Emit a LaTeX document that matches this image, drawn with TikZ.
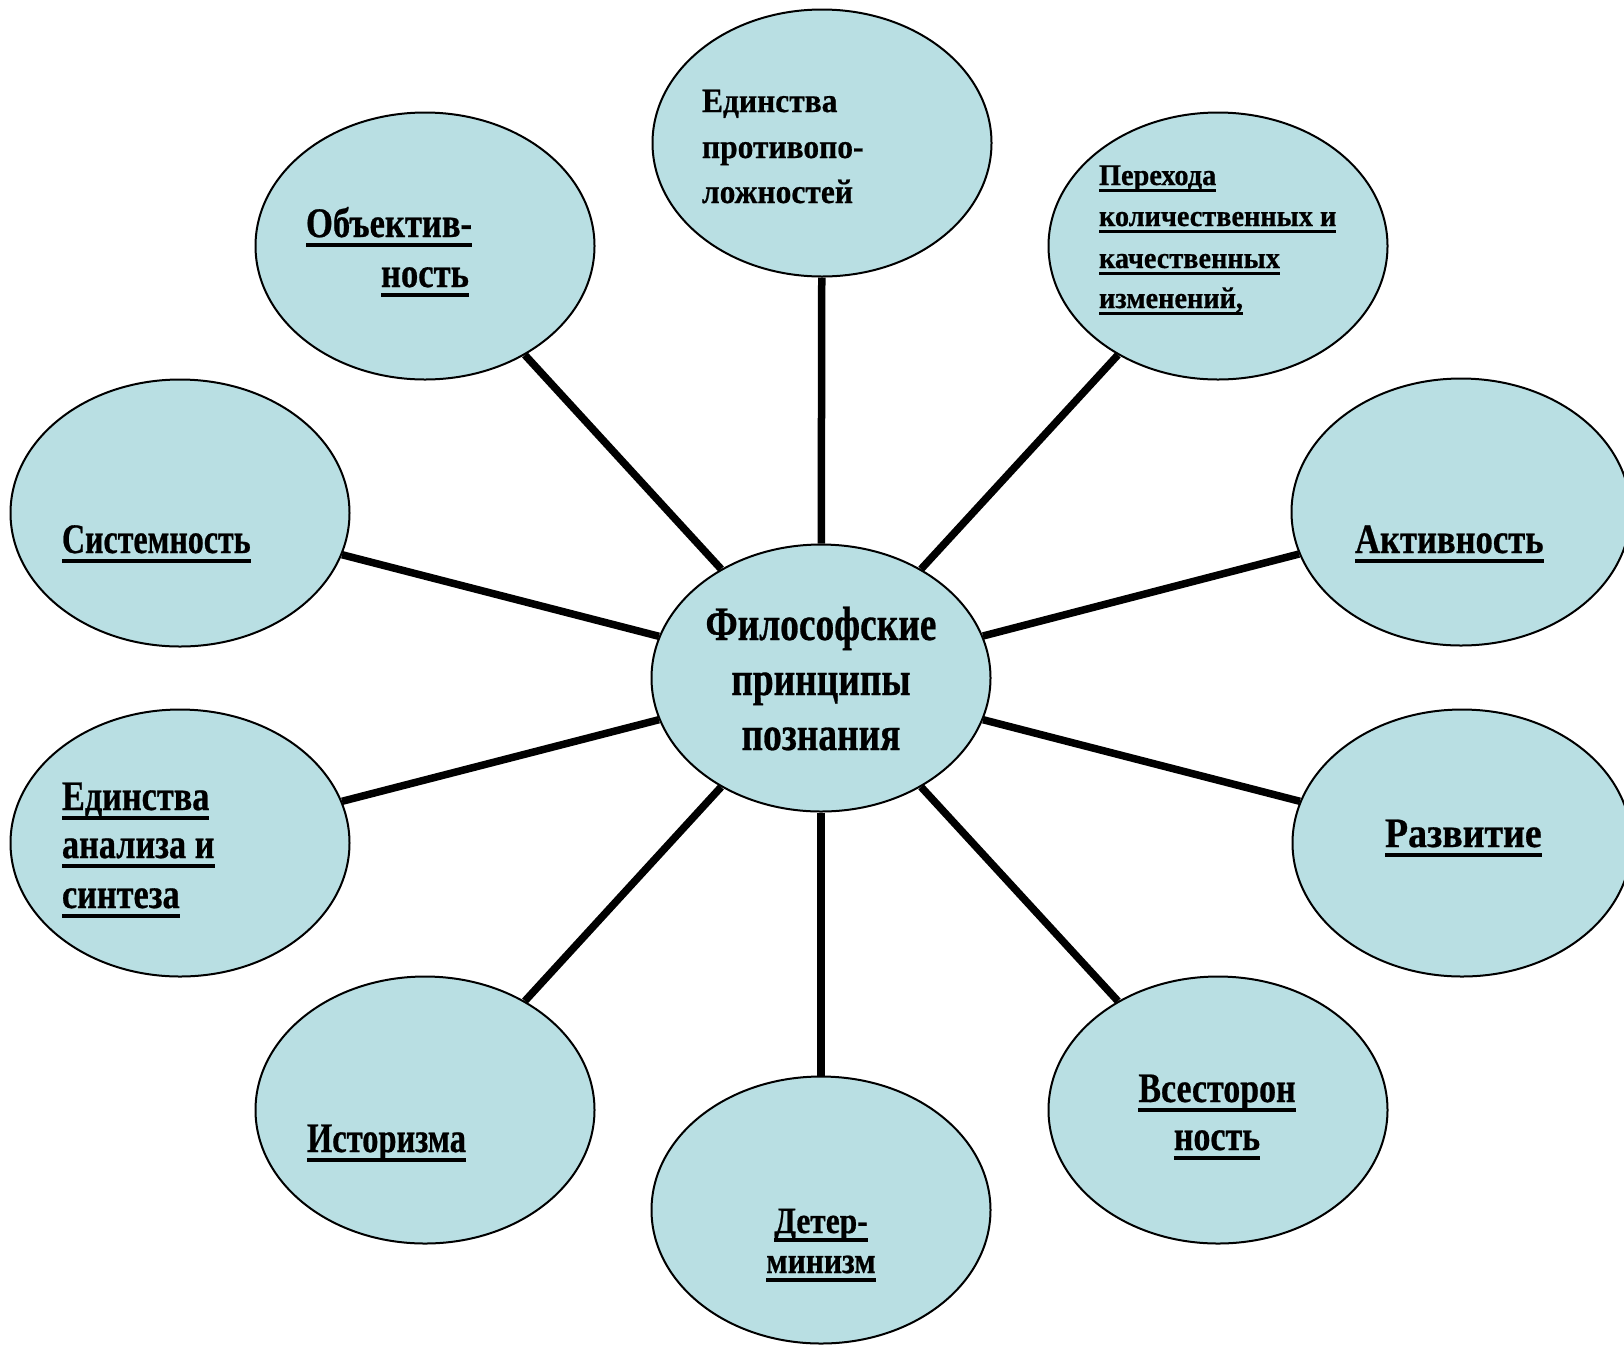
\documentclass[tikz,border=0pt]{standalone}
\usepackage{graphicx}
\usepackage{fontspec}
\setmainfont{Liberation Serif}[FakeStretch=0.85,FakeBold=0.6]
\definecolor{ellfill}{RGB}{185,223,227}
\newsavebox\myulbox
\newcommand\ulx[1]{\sbox\myulbox{#1}\rlap{\rule[-0.235em]{\wd\myulbox}{0.1em}}\usebox\myulbox}
\newcommand\hs[2]{\scalebox{#1}[1]{#2}}
\tikzset{
  ell/.style={ellipse, draw=black, line width=2pt, fill=ellfill, minimum width=339pt, minimum height=267pt, inner sep=0pt},
  conn/.style={line width=7.5pt, black},
  tx/.style={inner sep=0pt, outer sep=0pt, anchor=base west},
  txc/.style={inner sep=0pt, outer sep=0pt, anchor=base},
  fbig/.style={font=\fontsize{48}{55}\selectfont\bfseries},
  fmid/.style={font=\fontsize{42}{50}\selectfont\bfseries},
  fsm/.style={font=\fontsize{34}{40}\selectfont\bfseries},
  fxs/.style={font=\fontsize{30}{36}\selectfont\bfseries},
  fdet/.style={font=\fontsize{37}{42}\selectfont\bfseries},
}
\usetikzlibrary{shapes.geometric}
\begin{document}
\begin{tikzpicture}[x=1pt,y=-1pt]
\useasboundingbox (0,0) rectangle (1624,1345);
\fill[white] (0,0) rectangle (1624,1345);
% ellipses
\node[ell] (c) at (821,678) {};
\node[ell] (top) at (822,143) {};
\node[ell] (bot) at (821,1210) {};
\node[ell] (obj) at (425,246) {};
\node[ell] (per) at (1218,246) {};
\node[ell] (sys) at (180,513) {};
\node[ell] (akt) at (1461,512) {};
\node[ell] (ean) at (180,843) {};
\node[ell] (raz) at (1462,843) {};
\node[ell] (ist) at (425,1110) {};
\node[ell] (vse) at (1218,1110) {};
% connectors
\foreach \n in {top,bot,obj,per,sys,akt,ean,raz,ist,vse}{
  \draw[conn] (c) -- (\n);
}
% center text
\node[txc,fbig] (c1) at (821,640) {\hs{0.917}{Философские}};
\node[txc,fbig] (c2) at (821,695) {\hs{0.917}{принципы}};
\node[txc,fbig] (c3) at (821,750) {\hs{0.917}{познания}};
% top
\node[tx,fsm] (t1) at (702,112) {\hs{1.09}{Единства}};
\node[tx,fsm] (t2) at (702,158) {\hs{1.09}{противопо-}};
\node[tx,fsm] (t3) at (702,203) {\hs{1.09}{ложностей}};
% objectivity
\node[tx,fmid] (o1) at (306,237) {\hs{0.97}{\ulx{Объектив-}}};
\node[tx,fmid] (o2) at (381,287) {\hs{0.97}{\ulx{ность}}};
% transition
\node[tx,fxs] (p1) at (1099,185) {\hs{1.11}{\ulx{Перехода}}};
\node[tx,fxs] (p2) at (1099,226) {\hs{1.11}{\ulx{количественных и}}};
\node[tx,fxs] (p3) at (1099,268) {\hs{1.11}{\ulx{качественных}}};
\node[tx,fxs] (p4) at (1099,308) {\hs{1.11}{\ulx{изменений,}}};
% system
\node[tx,fmid] (s1) at (62,553) {\hs{0.896}{\ulx{Системность}}};
% activity
\node[tx,fmid] (a1) at (1355,553) {\hs{0.97}{\ulx{Активность}}};
% unity analysis
\node[tx,fmid] (e1) at (62,810) {\hs{0.96}{\ulx{Единства}}};
\node[tx,fmid] (e2) at (62,858) {\hs{0.96}{\ulx{анализа и}}};
\node[tx,fmid] (e3) at (62,908) {\hs{0.96}{\ulx{синтеза}}};
% development
\node[tx,fmid] (r1) at (1385,847) {\hs{1.06}{\ulx{Развитие}}};
% historism
\node[tx,fmid] (h1) at (307,1152) {\hs{0.91}{\ulx{Историзма}}};
% all-sidedness
\node[txc,fmid] (v1) at (1217,1102) {\hs{0.95}{\ulx{Всесторон}}};
\node[txc,fmid] (v2) at (1217,1150) {\hs{0.95}{\ulx{ность}}};
% determinism
\node[txc,fdet] (d1) at (821,1233) {\ulx{Детер-}};
\node[txc,fdet] (d2) at (821,1273) {\ulx{минизм}};
\end{tikzpicture}
\end{document}
